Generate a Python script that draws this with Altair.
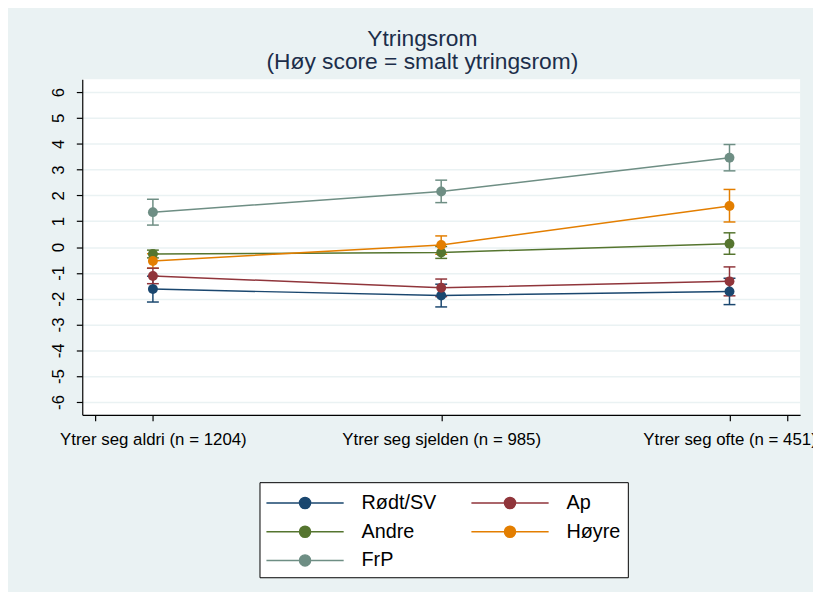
import altair as alt
import pandas as pd

# ---- data ----
x_pos = [1, 2, 3]
x_labels = ["Ytrer seg aldri (n = 1204)", "Ytrer seg sjelden (n = 985)", "Ytrer seg ofte (n = 451)"]
parties = ["Rødt/SV", "Ap", "Andre", "Høyre", "FrP"]
colors = ["#1A476F", "#90353B", "#55752F", "#E37E00", "#6E8E84"]

mean_rodt = [-1.63, -1.88, -1.72]
lo_rodt = [-2.13, -2.32, -2.23]
hi_rodt = [-1.13, -1.44, -1.21]

mean_ap = [-1.12, -1.58, -1.33]
lo_ap = [-1.42, -1.92, -1.89]
hi_ap = [-0.82, -1.24, -0.77]

mean_andre = [-0.27, -0.21, 0.13]
lo_andre = [-0.42, -0.44, -0.28]
hi_andre = [-0.12, 0.02, 0.55]

mean_hoyre = [-0.54, 0.08, 1.59]
lo_hoyre = [-0.82, -0.28, 0.97]
hi_hoyre = [-0.26, 0.43, 2.23]

mean_frp = [1.35, 2.15, 3.46]
lo_frp = [0.85, 1.72, 2.95]
hi_frp = [1.85, 2.59, 3.97]

y_ticks = [-6, -5, -4, -3, -2, -1, 0, 1, 2, 3, 4, 5, 6]

series = {
    "Rødt/SV": (mean_rodt, lo_rodt, hi_rodt),
    "Ap": (mean_ap, lo_ap, hi_ap),
    "Andre": (mean_andre, lo_andre, hi_andre),
    "Høyre": (mean_hoyre, lo_hoyre, hi_hoyre),
    "FrP": (mean_frp, lo_frp, hi_frp),
}

rows = []
for p in parties:
    m, lo, hi = series[p]
    for i, xv in enumerate(x_pos):
        rows.append({"x": xv, "party": p, "mean": m[i], "lo": lo[i], "hi": hi[i]})
df = pd.DataFrame(rows)

FONT = "Liberation Sans"

label_expr = " : ".join(
    [f"datum.value == {xv} ? '{lab}'" for xv, lab in zip(x_pos, x_labels)]
) + " : ''"

xenc = alt.X(
    "x:Q",
    scale=alt.Scale(domain=[0.755, 3.245], nice=False, zero=False),
    axis=alt.Axis(
        values=[0.8, 1, 2, 3, 3.2],
        labelExpr=label_expr,
        title=None,
        grid=False,
        domainColor="black",
        domainWidth=1.2,
        tickColor="black",
        tickWidth=1.2,
        tickSize=6,
        labelFont=FONT,
        labelFontSize=17,
        labelColor="black",
        labelPadding=11,
        labelLimit=400,
        labelFlush=False,
        labelOverlap=False,
    ),
)

yscale = alt.Scale(domain=[-6.5, 6.5], nice=False, zero=False)
yaxis = alt.Axis(
    values=y_ticks,
    labelExpr="'' + datum.value",
    title=None,
    grid=True,
    gridColor="#EAF2F3",
    gridWidth=1.5,
    domainColor="black",
    domainWidth=1.2,
    tickColor="black",
    tickWidth=1.2,
    tickSize=6,
    labelAngle=270,
    labelFont=FONT,
    labelFontSize=17,
    labelColor="black",
    labelPadding=9,
)

sym_path = "M-3,0H3M-0.43,0A0.43,0.43,0,1,1,0.43,0A0.43,0.43,0,1,1,-0.43,0Z"

leg = alt.Legend(
    title=None,
    orient="none",
    direction="horizontal",
    legendX=179,
    legendY=407,
    columns=2,
    columnPadding=32,
    rowPadding=5,
    padding=7,
    fillColor="white",
    strokeColor="black",
    symbolType=sym_path,
    symbolSize=676,
    symbolOffset=25,
    symbolStrokeWidth=1.5,
    symbolOpacity=1,
    labelFont=FONT,
    labelFontSize=20,
    labelColor="black",
    labelOffset=43,
    labelLimit=300,
)

color = alt.Color(
    "party:N",
    scale=alt.Scale(domain=parties, range=colors),
    sort=parties,
    legend=leg,
)

base = alt.Chart(df)

points = base.mark_circle(size=100, opacity=1).encode(
    x=xenc, y=alt.Y("mean:Q", scale=yscale, axis=yaxis), color=color
)
bars = base.mark_rule(strokeWidth=1.5).encode(
    x=xenc, y=alt.Y("lo:Q", scale=yscale, axis=yaxis), y2="hi:Q", color=color
)
cap_lo = base.mark_tick(orient="horizontal", size=12, thickness=1.5, opacity=1).encode(
    x=xenc, y=alt.Y("lo:Q", scale=yscale, axis=yaxis), color=color
)
cap_hi = base.mark_tick(orient="horizontal", size=12, thickness=1.5, opacity=1).encode(
    x=xenc, y=alt.Y("hi:Q", scale=yscale, axis=yaxis), color=color
)
lines = base.mark_line(strokeWidth=1.5).encode(
    x=xenc, y=alt.Y("mean:Q", scale=yscale, axis=yaxis), color=color, order="x:Q"
)

chart = (
    alt.layer(bars, cap_lo, cap_hi, lines, points)
    .properties(
        width=725,
        height=339,
        autosize=alt.AutoSizeParams(type="none"),
        padding={"left": 75, "top": 69, "right": 13, "bottom": 176},
        title=alt.TitleParams(
            text=["Ytringsrom", "(Høy score = smalt ytringsrom)"],
            font=FONT,
            fontSize=23,
            fontWeight="normal",
            color="#1C2E4A",
            anchor="middle",
            dx=-19,
            offset=5,
            lineHeight=24,
        ),
    )
    .configure(background="#EAF2F3")
    .configure_view(fill="white", stroke=None)
)

chart.save("out.html", embed_options={"renderer": "svg", "actions": False})
